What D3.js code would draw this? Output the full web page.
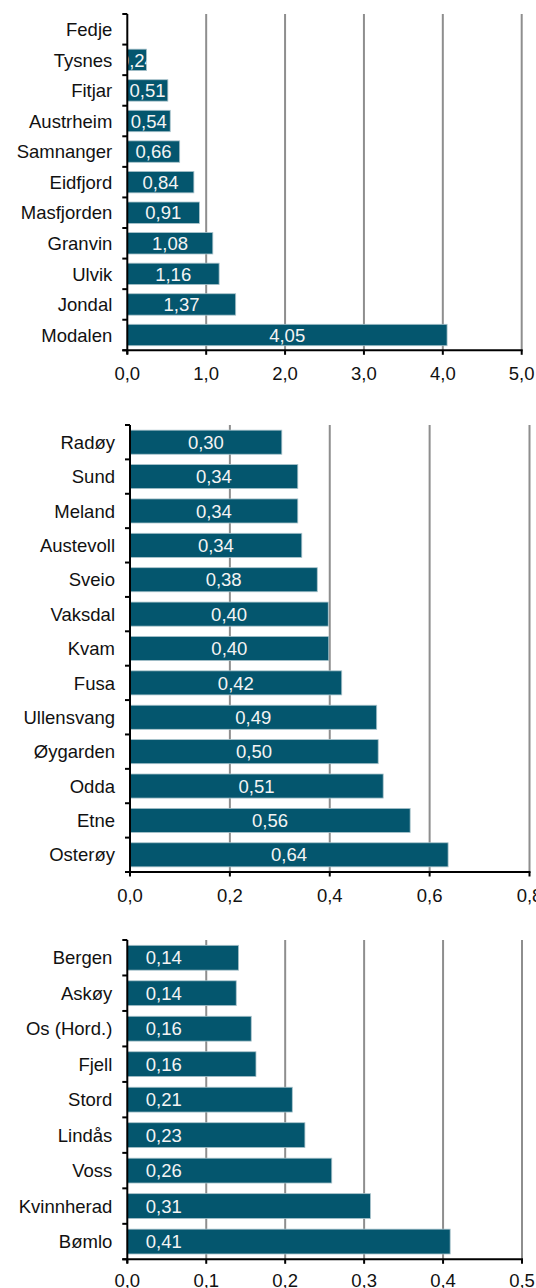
<!DOCTYPE html>
<html>
<head>
<meta charset="utf-8">
<script src="https://cdn.jsdelivr.net/npm/d3@7"></script>
<style>
  html, body { margin: 0; padding: 0; background: #fff; }
  svg { display: block; }
  text { font-family: "Liberation Sans", Arial, sans-serif; }
</style>
</head>
<body>
<svg id="chart" width="536" height="1288"></svg>
<script>
// ---- Data ----
const categories1 = ["Fedje", "Tysnes", "Fitjar", "Austrheim", "Samnanger", "Eidfjord", "Masfjorden", "Granvin", "Ulvik", "Jondal", "Modalen"];
const values1 = [null, 0.244, 0.514, 0.544, 0.664, 0.844, 0.914, 1.084, 1.164, 1.374, 4.054];
const ticks1 = [0, 1, 2, 3, 4, 5];

const categories2 = ["Radøy", "Sund", "Meland", "Austevoll", "Sveio", "Vaksdal", "Kvam", "Fusa", "Ullensvang", "Øygarden", "Odda", "Etne", "Osterøy"];
const values2 = [0.304, 0.336, 0.336, 0.344, 0.375, 0.397, 0.398, 0.424, 0.494, 0.497, 0.507, 0.561, 0.637];
const ticks2 = [0, 0.2, 0.4, 0.6, 0.8];

const categories3 = ["Bergen", "Askøy", "Os (Hord.)", "Fjell", "Stord", "Lindås", "Voss", "Kvinnherad", "Bømlo"];
const values3 = [0.141, 0.138, 0.157, 0.163, 0.209, 0.225, 0.259, 0.308, 0.409];
const ticks3 = [0, 0.1, 0.2, 0.3, 0.4, 0.5];

// ---- Style ----
const BAR = "#04566e";
const BAR_EDGE = "#a9c3cb";
const GRID = "#8e8e8e";
const FS = 18.5;

const svg = d3.select("#chart");
const fmt = v => d3.format(".2f")(v).replace(".", ",");
const tickFmt = v => d3.format(".1f")(v).replace(".", ",");

const panels = [
  { cats: categories1, vals: values1, ticks: ticks1, x0: 127.3, x1: 521.7, top: 14, bottom: 350.3, labelMode: "center", tickLabelGap: 30 },
  { cats: categories2, vals: values2, ticks: ticks2, x0: 130, x1: 529.5, top: 425, bottom: 872, labelMode: "center", tickLabelGap: 30 },
  { cats: categories3, vals: values3, ticks: ticks3, x0: 127.3, x1: 522, top: 940, bottom: 1259.3, labelMode: "left", tickLabelGap: 28 }
];

panels.forEach((p, pi) => {
  const g = svg.append("g");
  const domainMax = p.ticks[p.ticks.length - 1];
  const x = d3.scaleLinear().domain([0, domainMax]).range([p.x0, p.x1]);
  const y = d3.scaleBand().domain(p.cats).range([p.top, p.bottom]).paddingInner(0.3).paddingOuter(0.15);

  // gridlines
  g.append("g").selectAll("line").data(p.ticks.filter(t => t > 0)).join("line")
    .attr("x1", d => x(d)).attr("x2", d => x(d))
    .attr("y1", p.top).attr("y2", p.bottom)
    .attr("stroke", GRID).attr("stroke-width", 2);

  // clip paths and bars
  const data = p.cats.map((c, i) => ({ c, v: p.vals[i], i })).filter(d => d.v != null);
  const defs = svg.append("defs");
  defs.selectAll("clipPath").data(data).join("clipPath")
    .attr("id", d => `clip-${pi}-${d.i}`)
    .append("rect")
    .attr("x", x(0)).attr("y", d => y(d.c))
    .attr("width", d => x(d.v) - x(0)).attr("height", y.bandwidth());

  g.append("g").selectAll("rect").data(data).join("rect")
    .attr("x", x(0)).attr("y", d => y(d.c))
    .attr("width", d => x(d.v) - x(0)).attr("height", y.bandwidth())
    .attr("fill", BAR).attr("stroke", BAR_EDGE).attr("stroke-width", 0.8);

  // value labels
  g.append("g").selectAll("text").data(data).join("text")
    .attr("clip-path", d => `url(#clip-${pi}-${d.i})`)
    .attr("x", d => p.labelMode === "center" ? (x(0) + x(d.v)) / 2 : x(0) + 18.5)
    .attr("y", d => y(d.c) + y.bandwidth() / 2)
    .attr("dy", "0.36em")
    .attr("text-anchor", p.labelMode === "center" ? "middle" : "start")
    .attr("fill", "#f4f4f4").attr("font-size", FS)
    .text(d => fmt(d.v));

  // y axis line and ticks
  const axis = g.append("g").attr("stroke", "#000");
  axis.append("line").attr("x1", p.x0).attr("x2", p.x0).attr("y1", p.top).attr("y2", p.bottom + 4).attr("stroke-width", 2);
  const bounds = p.cats.map(c => y(c) - y.step() * 0.15).concat([p.bottom]);
  axis.selectAll("line.yt").data(bounds).join("line").attr("class", "yt")
    .attr("x1", p.x0 - 5).attr("x2", p.x0).attr("y1", d => d).attr("y2", d => d).attr("stroke-width", 2);

  // x axis line and ticks
  axis.append("line").attr("x1", p.x0 - 5).attr("x2", p.x1 + 1).attr("y1", p.bottom).attr("y2", p.bottom).attr("stroke-width", 2);
  axis.selectAll("line.xt").data(p.ticks).join("line").attr("class", "xt")
    .attr("x1", d => x(d)).attr("x2", d => x(d)).attr("y1", p.bottom).attr("y2", p.bottom + 4.5).attr("stroke-width", 2);

  // category labels
  g.append("g").selectAll("text").data(p.cats).join("text")
    .attr("x", p.x0 - 15).attr("y", d => y(d) + y.bandwidth() / 2).attr("dy", "0.36em")
    .attr("text-anchor", "end").attr("fill", "#111").attr("font-size", FS)
    .text(d => d);

  // x tick labels
  g.append("g").selectAll("text").data(p.ticks).join("text")
    .attr("x", d => x(d)).attr("y", p.bottom + p.tickLabelGap)
    .attr("text-anchor", "middle").attr("fill", "#111").attr("font-size", FS)
    .text(d => tickFmt(d));
});
</script>
</body>
</html>
